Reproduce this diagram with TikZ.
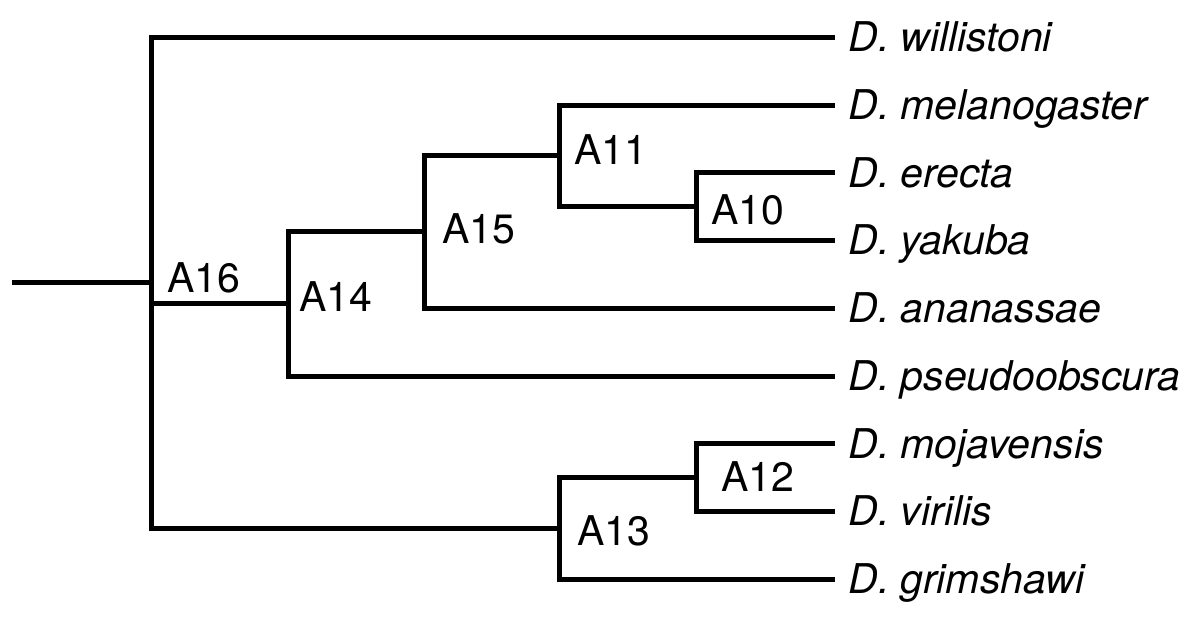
\documentclass[tikz,border=0pt]{standalone}
\usepackage{fontspec}
\setmainfont{TeX Gyre Heros}

\begin{document}
\begin{tikzpicture}[x=0.5pt,y=-0.5pt,
	branch/.style={line width=2.5pt},
	taxon/.style={anchor=west,inner xsep=6.5pt,inner ysep=0pt,text height=14.7pt,text depth=0pt,font=\fontsize{20.5}{24}\selectfont\itshape},
	anc/.style={anchor=west,inner sep=0pt,text height=14.7pt,text depth=0pt,font=\fontsize{20.5}{24}\selectfont}]
	\useasboundingbox (0,0) rectangle (1200,618);

	% leaves
	\node[taxon] (wil) at (835, 37)    {D. willistoni};
	\node[taxon] (mel) at (835, 105)   {D. melanogaster};
	\node[taxon] (ere) at (835, 172.5) {D. erecta};
	\node[taxon] (yak) at (835, 240)   {D. yakuba};
	\node[taxon] (ana) at (835, 308)   {D. ananassae};
	\node[taxon] (pse) at (835, 376)   {D. pseudoobscura};
	\node[taxon] (moj) at (835, 443.5) {D. mojavensis};
	\node[taxon] (vir) at (835, 511)   {D. virilis};
	\node[taxon] (gri) at (835, 579)   {D. grimshawi};

	% ancestors
	\coordinate (root) at (12, 282.6);
	\coordinate (n16) at (151, 282.6);
	\coordinate (n14) at (288, 303.9);
	\coordinate (n15) at (424.5, 231.8);
	\coordinate (n11) at (559.5, 155.6);
	\coordinate (n10) at (696, 206.25);
	\coordinate (n13) at (559.5, 528.1);
	\coordinate (n12) at (696, 477.25);

	\node[anc] (a16) at (167, 278) {A16};
	\node[anc] (a14) at (299, 297) {A14};
	\node[anc] (a15) at (442, 229) {A15};
	\node[anc] (a11) at (574, 150) {A11};
	\node[anc] (a10) at (711, 210) {A10};
	\node[anc] (a13) at (577, 531) {A13};
	\node[anc] (a12) at (721, 477) {A12};

	\draw[branch] (root) -- (n16);
	\draw[branch] (n16) |- (wil.west);
	\draw[branch] (n16) |- (n14);
	\draw[branch] (n16) |- (n13);
	\draw[branch] (n14) |- (n15);
	\draw[branch] (n14) |- (pse.west);
	\draw[branch] (n15) |- (n11);
	\draw[branch] (n15) |- (ana.west);
	\draw[branch] (n11) |- (mel.west);
	\draw[branch] (n11) |- (n10);
	\draw[branch] (n10) |- (ere.west);
	\draw[branch] (n10) |- (yak.west);
	\draw[branch] (n13) |- (n12);
	\draw[branch] (n13) |- (gri.west);
	\draw[branch] (n12) |- (moj.west);
	\draw[branch] (n12) |- (vir.west);

\end{tikzpicture}
\end{document}
